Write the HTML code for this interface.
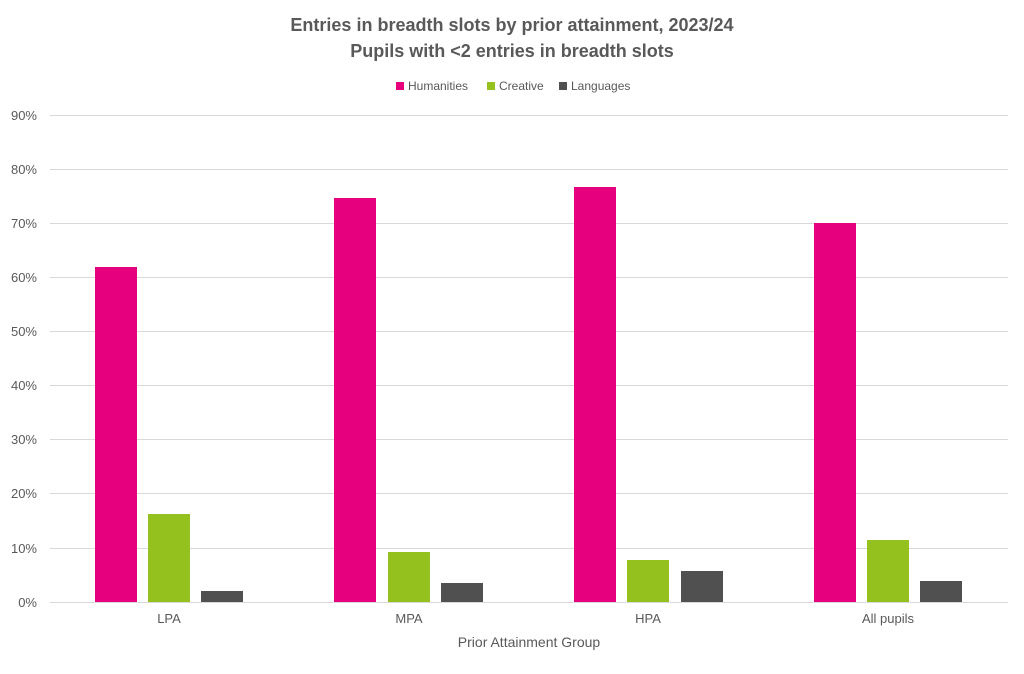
<!DOCTYPE html>
<html><head><meta charset="utf-8"><style>
body{margin:0;background:#fff;}
svg text{font-family:"Liberation Sans",sans-serif;fill:#595959;}
</style></head><body>
<svg width="1024" height="669" xmlns="http://www.w3.org/2000/svg">
<text x="512" y="31" font-size="18" font-weight="bold" text-anchor="middle">Entries in breadth slots by prior attainment, 2023/24</text>
<text x="512" y="57" font-size="18" font-weight="bold" text-anchor="middle">Pupils with &lt;2 entries in breadth slots</text>
<rect x="396" y="82" width="8" height="8" fill="#E6007E"/><text x="408" y="90" font-size="12">Humanities</text>
<rect x="487" y="82" width="8" height="8" fill="#95C11F"/><text x="499" y="90" font-size="12">Creative</text>
<rect x="559" y="82" width="8" height="8" fill="#505050"/><text x="571" y="90" font-size="12">Languages</text>
<g stroke="#d9d9d9" stroke-width="1">
<line x1="50" x2="1008" y1="115.5" y2="115.5"/><line x1="50" x2="1008" y1="169.5" y2="169.5"/>
<line x1="50" x2="1008" y1="223.5" y2="223.5"/><line x1="50" x2="1008" y1="277.5" y2="277.5"/>
<line x1="50" x2="1008" y1="331.5" y2="331.5"/><line x1="50" x2="1008" y1="385.5" y2="385.5"/>
<line x1="50" x2="1008" y1="439.5" y2="439.5"/><line x1="50" x2="1008" y1="493.5" y2="493.5"/>
<line x1="50" x2="1008" y1="548.5" y2="548.5"/><line x1="50" x2="1008" y1="602.5" y2="602.5"/>
</g>
<g font-size="13" text-anchor="end">
<text x="37" y="120">90%</text><text x="37" y="174">80%</text><text x="37" y="228">70%</text>
<text x="37" y="282">60%</text><text x="37" y="336">50%</text><text x="37" y="390">40%</text>
<text x="37" y="444">30%</text><text x="37" y="498">20%</text><text x="37" y="553">10%</text>
<text x="37" y="607">0%</text>
</g>
<g fill="#E6007E">
<rect x="95" y="267" width="42" height="335"/><rect x="334" y="198" width="42" height="404"/>
<rect x="574" y="187" width="42" height="415"/><rect x="814" y="223" width="42" height="379"/>
</g>
<g fill="#95C11F">
<rect x="148" y="514" width="42" height="88"/><rect x="388" y="552" width="42" height="50"/>
<rect x="627" y="560" width="42" height="42"/><rect x="867" y="540" width="42" height="62"/>
</g>
<g fill="#505050">
<rect x="201" y="591" width="42" height="11"/><rect x="441" y="583" width="42" height="19"/>
<rect x="681" y="571" width="42" height="31"/><rect x="920" y="581" width="42" height="21"/>
</g>
<g font-size="13" text-anchor="middle">
<text x="169" y="623">LPA</text><text x="409" y="623">MPA</text>
<text x="648" y="623">HPA</text><text x="888" y="623">All pupils</text>
</g>
<text x="529" y="647" font-size="14" text-anchor="middle">Prior Attainment Group</text>
</svg>
</body></html>
